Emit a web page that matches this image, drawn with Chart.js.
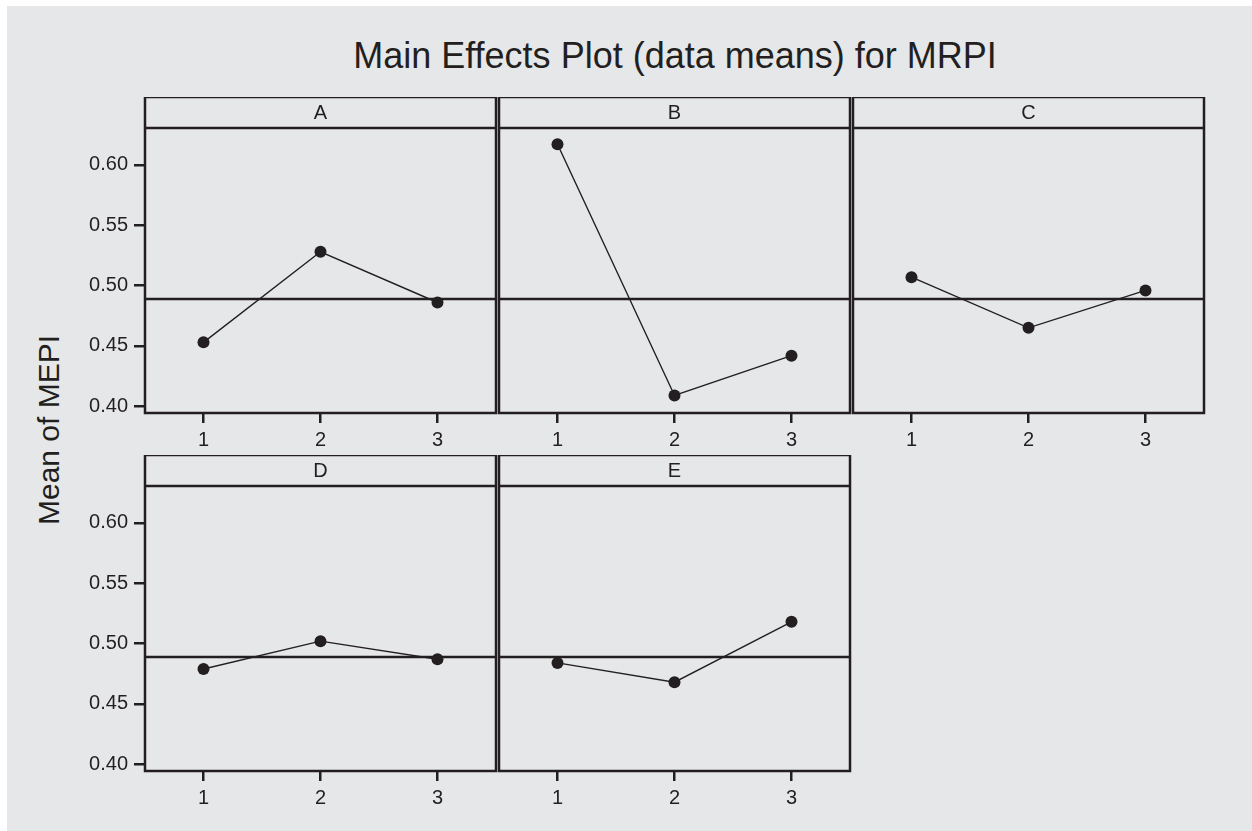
<!DOCTYPE html>
<html lang="en">
<head>
  <meta charset="UTF-8">
  <title>Main Effects Plot (data means) for MRPI</title>
  <style>
    html, body {
      margin: 0;
      overflow: hidden;
      background: #e6e7e9;
      font-family: "Liberation Sans", Arial, sans-serif;
      color: #231f20;
    }
    #page {
      position: relative;
      width: 1252px;
      height: 831px;
      overflow: hidden;
      background: #e6e7e9;
    }
    .edge { position: absolute; background: #fff; }
    .panel { position: absolute; }
    #title {
      position: absolute;
      left: 275px; top: 38px; width: 800px;
      text-align: center;
      font-size: 36px; line-height: 36px;
    }
    #ylabel {
      position: absolute;
      left: -101px; top: 415px; width: 300px;
      text-align: center;
      font-size: 30px; line-height: 30px;
      transform: rotate(-90deg);
    }
  </style>
</head>
<body>
<div id="page">
  <div class="edge" style="left:0; top:0; width:1252px; height:6px;"></div>
  <div class="edge" style="left:0; top:0; width:7px; height:831px;"></div>
  <div id="title">Main Effects Plot (data means) for MRPI</div>
  <div id="ylabel">Mean of MEPI</div>
</div>

<script src="https://cdn.jsdelivr.net/npm/chart.js@4.4.1/dist/chart.umd.min.js"></script>
<script>
  // data
  const levels = [1, 2, 3];
  const factors = ['A', 'B', 'C', 'D', 'E'];
  const meansA = [0.453, 0.528, 0.486];
  const meansB = [0.617, 0.409, 0.442];
  const meansC = [0.507, 0.465, 0.496];
  const meansD = [0.479, 0.502, 0.487];
  const meansE = [0.484, 0.468, 0.518];
  const grandMean = 0.489;
  const yTicks = [0.40, 0.45, 0.50, 0.55, 0.60];
  const yMin = 0.3945, yMax = 0.6305;

  // layout
  const INK = '#231f20';
  const COLS = [145, 499, 853];
  const ROWS = [97, 455];
  const AXW = 100, PW = 354, RP = 3;
  const HH = 31, PH = 285, XH = 50;

  const panels = [
    { name: factors[0], values: meansA, col: 0, row: 0 },
    { name: factors[1], values: meansB, col: 1, row: 0 },
    { name: factors[2], values: meansC, col: 2, row: 0 },
    { name: factors[3], values: meansD, col: 0, row: 1 },
    { name: factors[4], values: meansE, col: 1, row: 1 }
  ];

  const frame = {
    id: 'frame',
    afterDatasetsDraw(chart, args, opts) {
      const { ctx, chartArea: a } = chart;
      ctx.save();
      ctx.strokeStyle = INK;
      ctx.lineWidth = 2.5;
      ctx.strokeRect(a.left, a.top - HH, a.right - a.left, a.bottom - a.top + HH);
      ctx.beginPath();
      ctx.moveTo(a.left, a.top);
      ctx.lineTo(a.right, a.top);
      ctx.stroke();
      ctx.fillStyle = INK;
      ctx.font = '20px "Liberation Sans", Arial, sans-serif';
      ctx.textAlign = 'center';
      ctx.textBaseline = 'middle';
      ctx.fillText(opts.name, (a.left + a.right) / 2, a.top - HH / 2 + 1);
      ctx.restore();
    }
  };

  const page = document.getElementById('page');

  panels.forEach(p => {
    const showY = p.col === 0;
    const box = document.createElement('div');
    box.className = 'panel';
    box.style.left = (COLS[p.col] - AXW) + 'px';
    box.style.top = ROWS[p.row] + 'px';
    const canvas = document.createElement('canvas');
    canvas.width = AXW + PW + RP;
    canvas.height = HH + PH + XH;
    box.appendChild(canvas);
    page.appendChild(box);

    new Chart(canvas, {
      type: 'line',
      data: {
        datasets: [
          {
            data: levels.map((x, i) => ({ x, y: p.values[i] })),
            borderColor: INK,
            borderWidth: 1.4,
            pointRadius: 6,
            pointHoverRadius: 6,
            pointBackgroundColor: INK,
            pointBorderWidth: 0,
            tension: 0
          },
          {
            data: [{ x: 0.5, y: grandMean }, { x: 3.5, y: grandMean }],
            borderColor: INK,
            borderWidth: 2.5,
            pointRadius: 0,
            pointHoverRadius: 0
          }
        ]
      },
      options: {
        responsive: false,
        animation: false,
        events: [],
        layout: { padding: { top: HH, right: RP, left: 0, bottom: 0 } },
        plugins: {
          legend: { display: false },
          tooltip: { enabled: false },
          frame: { name: p.name }
        },
        scales: {
          x: {
            type: 'linear',
            min: 0.5,
            max: 3.5,
            afterBuildTicks: s => { s.ticks = levels.map(v => ({ value: v })); },
            afterFit: s => { s.height = XH; },
            ticks: {
              color: INK,
              padding: 5,
              font: { family: '"Liberation Sans", Arial, sans-serif', size: 20 },
              callback: v => String(v)
            },
            grid: { drawOnChartArea: false, drawTicks: true, tickLength: 10, color: INK, lineWidth: 2.5 },
            border: { display: false }
          },
          y: {
            min: yMin,
            max: yMax,
            afterBuildTicks: s => { s.ticks = yTicks.map(v => ({ value: v })); },
            afterFit: s => { s.width = AXW; },
            ticks: {
              display: showY,
              color: INK,
              padding: 6,
              font: { family: '"Liberation Sans", Arial, sans-serif', size: 20 },
              callback: v => v.toFixed(2)
            },
            grid: { drawOnChartArea: false, drawTicks: showY, tickLength: 11, color: INK, lineWidth: 2.5 },
            border: { display: false }
          }
        }
      },
      plugins: [frame]
    });
  });
</script>
</body>
</html>
